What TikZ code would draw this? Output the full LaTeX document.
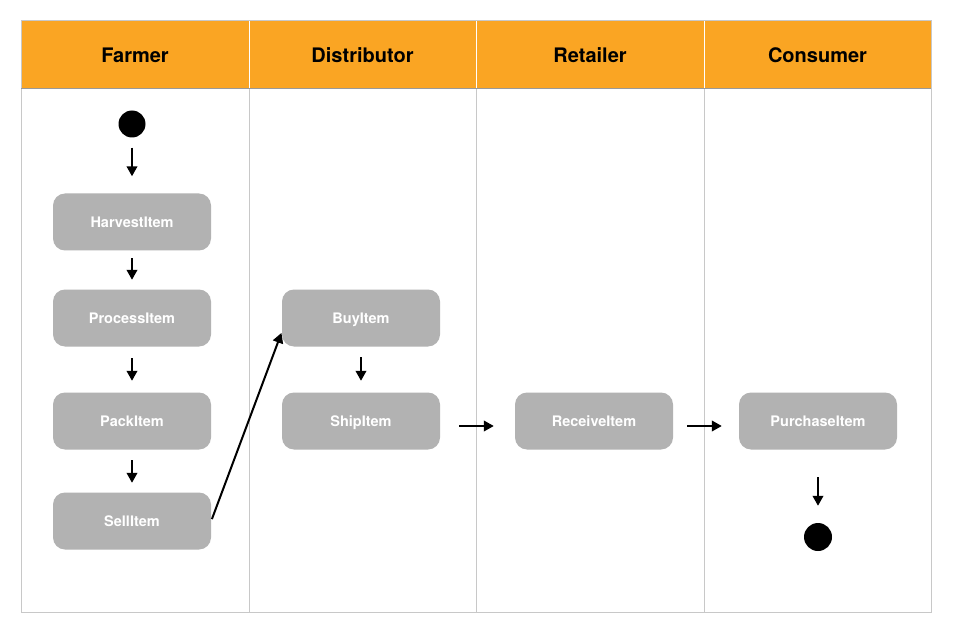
\documentclass[tikz,border=0pt]{standalone}
\usepackage{fontspec}
\setmainfont{TeX Gyre Heros}
\usetikzlibrary{arrows.meta,calc}
\definecolor{hdr}{HTML}{FAA523}
\definecolor{nodegray}{HTML}{B2B2B2}
\definecolor{lane}{HTML}{C8C8C8}
\begin{document}
\begin{tikzpicture}[x=1pt,y=-1pt,
 act/.style={draw=none, fill=nodegray, rounded corners=12pt, minimum width=158pt, minimum height=57pt, inner sep=0pt, text height=10.4pt, text depth=0pt, text=white, font=\fontsize{14.5}{16}\selectfont\bfseries},
 lanehead/.style={font=\fontsize{20}{22}\selectfont\bfseries, text=black, inner sep=0pt, text height=14.4pt, text depth=0pt},
 dot/.style={circle, fill=black, minimum size=27pt, inner sep=0pt},
 flow/.style={-{Triangle[length=10pt,width=10.5pt]}, line width=2.2pt}
]
\useasboundingbox (0,0) rectangle (956,631);
\fill[white] (0,0) rectangle (956,631);
% header band
\fill[hdr] (21,20) rectangle (931,88);
\foreach \x in {249,476,704} {
  \draw[white, line width=1pt] (\x,20) -- (\x,88);
  \draw[lane, line width=0.8pt] (\x,88) -- (\x,612);
}
\draw[lane, line width=0.8pt] (21,20) rectangle (931,612);
\draw[gray!80, line width=0.8pt] (21,88) -- (931,88);
% lane titles
\node[lanehead] (hfarmer) at (135,55) {Farmer};
\node[lanehead] (hdist) at (362.5,55) {Distributor};
\node[lanehead] (hret) at (590,55) {Retailer};
\node[lanehead] (hcons) at (817.5,55) {Consumer};
% nodes
\node[dot] (start) at (132,124) {};
\node[act] (harvest) at (132,222) {HarvestItem};
\node[act] (process) at (132,318) {ProcessItem};
\node[act] (pack) at (132,421) {PackItem};
\node[act] (sell) at (132,521) {SellItem};
\node[act] (buy) at (361,318) {BuyItem};
\node[act] (ship) at (361,421) {ShipItem};
\node[act] (receive) at (594,421) {ReceiveItem};
\node[act] (purchase) at (818,421) {PurchaseItem};
\node[dot, minimum size=28pt] (stop) at (818,537) {};
% connectors
\draw[flow, shorten <=10pt, shorten >=17pt] (start) -- (harvest);
\draw[flow, shorten <=7.5pt, shorten >=9.5pt] (harvest) -- (process);
\draw[flow, shorten <=11.5pt, shorten >=11.5pt] (process) -- (pack);
\draw[flow, shorten <=10.5pt, shorten >=9.5pt] (pack) -- (sell);
\draw[flow, line width=2pt, shorten <=2pt, shorten >=1pt] (sell.east) -- (buy.190);
\draw[flow, shorten <=10.5pt, shorten >=11.5pt] (buy) -- (ship);
\draw[flow, shorten <=19pt, shorten >=21pt] ([yshift=-5pt]ship.east) -- ([yshift=-5pt]receive.west);
\draw[flow, shorten <=14pt, shorten >=17pt] ([yshift=-5pt]receive.east) -- ([yshift=-5pt]purchase.west);
\draw[flow, shorten <=27.5pt, shorten >=17pt] (purchase) -- (stop);
\end{tikzpicture}
\end{document}
